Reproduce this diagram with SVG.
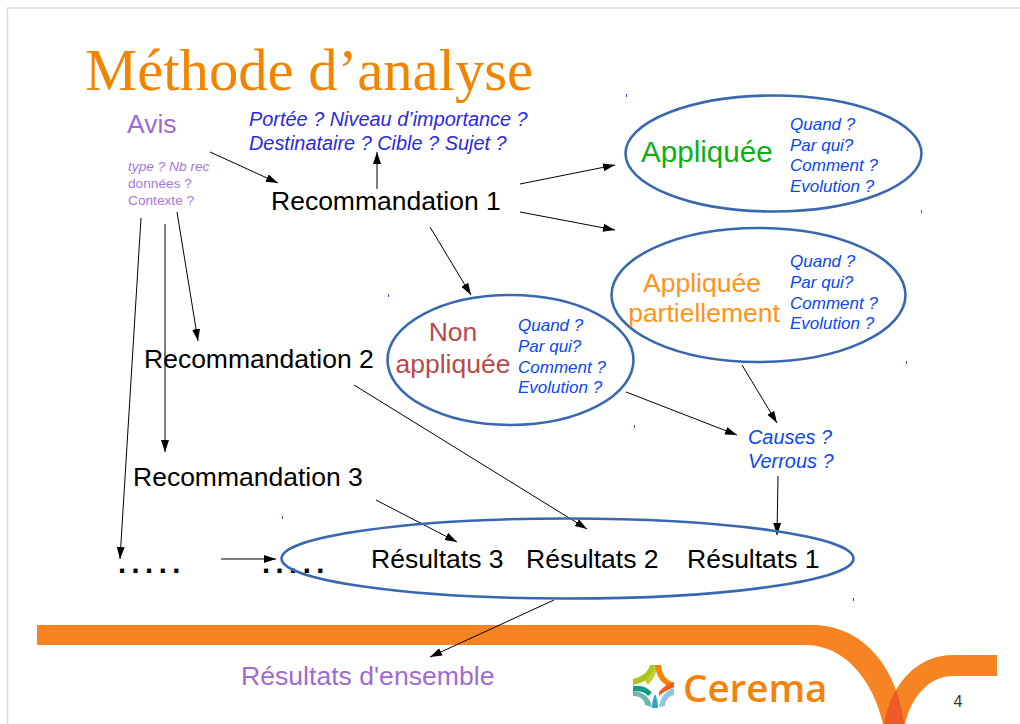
<svg xmlns="http://www.w3.org/2000/svg" width="1020" height="724" viewBox="0 0 1020 724">
<style>
text{font-family:"Liberation Sans",Arial,sans-serif}
.t{font-size:26.500px;fill:#000}
.q{font-size:17px;font-style:italic;fill:#0a46f0}
.c{stroke:#000;stroke-width:1;fill:none;marker-end:url(#a)}
.g{stroke:#555;stroke-width:1.500}
.e{fill:none;stroke:#3a68b0;stroke-width:2.600}
.b{font-size:19.900px;font-style:italic;fill:#2a2ae0}
.v{font-size:13.700px;fill:#a678d8}
.dot{fill:#2f5fb0}
.d{font-size:29px;font-weight:bold;fill:#000;letter-spacing:5.500px}
.band{fill:#f68423}
</style>
<defs>
<marker id="a" markerUnits="userSpaceOnUse" markerWidth="13" markerHeight="9" refX="12" refY="4.500" orient="auto"><path d="M0 0.500L12 4.500L0 8.500Z" fill="#000"/></marker>
<clipPath id="rp"><path d="M997 655H953C920 655 892 680 884 724H905C912 695 930 676 953 676H997Z"/></clipPath>
</defs>
<rect width="1020" height="724" fill="#fff"/>
<path d="M1020 8H7.500V724" fill="none" stroke="#dcdcdc" stroke-width="1.500"/>
<g id="footer">
<path class="band" d="M37 625H817C865 628 897 668 904 724H883C873 680 845 646 807 645H37Z"/>
<path class="band" d="M997 655H953C920 655 892 680 884 724H905C912 695 930 676 953 676H997Z"/>
<path d="M817 625C865 628 897 668 904 724H883C873 680 845 646 807 645Z" fill="#ee5a26" clip-path="url(#rp)"/>
<text x="958" y="707" text-anchor="middle" font-size="16" fill="#333">4</text>
</g>
<g id="logo">
<path d="M650 665H655C655 675 647 682 633 685V679C642 677 648 672 650 665Z" fill="#a9c51f"/>
<path d="M655 665L657 669C655 676 652 681 648 685L645 681C649 677 653 672 655 665Z" fill="#c3d02a"/>
<path d="M655 665H661C662 675 666 680 674 683L673 688C664 686 656 678 655 665Z" fill="#f5820a"/>
<path d="M659 692C664 686 668 684 674 682V687L668 690C664 692 662 693 659 696Z" fill="#ee5a20"/>
<path d="M633 686H640C646 687 650 690 652 693L648 696C645 692 640 691 633 691Z" fill="#149b82"/>
<path d="M633 691C645 692 650 698 652 707L645 705C644 699 640 696 633 696Z" fill="#6bb8a8"/>
<path d="M659 707C660 698 665 691 674 688V695C668 696 665 701 665 706Z" fill="#8cc8dd"/>
<path d="M655 694C657 698 658 702 658 708H652C652 703 653 698 655 694Z" fill="#2ca5c8"/>
<text x="683" y="702" font-size="38.500" font-weight="600" fill="#f5820a" style="font-family:'Open Sans','Noto Sans',sans-serif">Cerema</text>
</g>
<g id="connectors">
<path class="c" d="M210 152L278 183"/>
<path class="c g" d="M377 189V152"/>
<path class="c" d="M520 184L615 165"/>
<path class="c" d="M520 212L615 230"/>
<path class="c" d="M430 227L471 295"/>
<path class="c" d="M177 212L198 341"/>
<path class="c" d="M165 224V452"/>
<path class="c" d="M141 218L120 559"/>
<path class="c" d="M354 385L587 529"/>
<path class="c" d="M742 365L777 423"/>
<path class="c" d="M626 392L737 435"/>
<path class="c" d="M778 476L777 535"/>
<path class="c" d="M376 500L457 542"/>
<path class="c g" d="M221 559L276 559"/>
<path class="c" d="M554 600L430 657"/>
</g>
<g id="title"><text x="85" y="90" font-size="58.700" fill="#f28500" style="font-family:'Liberation Serif','Times New Roman',serif">Méthode d’analyse</text></g>
<g id="avis">
<text x="127" y="133" font-size="26.500" fill="#a06bd0">Avis</text>
<text x="128" y="171" class="v" font-style="italic">type ? Nb rec</text>
<text x="128" y="188" class="v">données ?</text>
<text x="128" y="205" class="v">Contexte ?</text>
</g>
<g id="questions-recommandation">
<text x="249" y="126" class="b">Portée ? Niveau d’importance ?</text>
<text x="249" y="150" class="b">Destinataire ? Cible ? Sujet ?</text>
</g>
<g id="recommandation-1"><text x="271" y="210" class="t">Recommandation 1</text></g>
<g id="recommandation-2"><text x="144" y="368" class="t">Recommandation 2</text></g>
<g id="recommandation-3"><text x="133" y="486" class="t">Recommandation 3</text></g>
<g id="appliquee">
<ellipse class="e" cx="773.500" cy="153.500" rx="148" ry="58"/>
<text x="641" y="162" font-size="29.600" fill="#0cb014">Appliquée</text>
<text x="790" y="130" class="q">Quand ?</text><text x="790" y="151" class="q">Par qui?</text><text x="790" y="171" class="q">Comment ?</text><text x="790" y="192" class="q">Evolution ?</text>
</g>
<g id="appliquee-partiellement">
<ellipse class="e" cx="758.500" cy="295" rx="147" ry="67"/>
<text x="702" y="292" text-anchor="middle" font-size="26.500" fill="#ff9419">Appliquée</text>
<text x="704" y="322" text-anchor="middle" font-size="26.500" fill="#ff9419">partiellement</text>
<text x="790" y="267" class="q">Quand ?</text><text x="790" y="288" class="q">Par qui?</text><text x="790" y="309" class="q">Comment ?</text><text x="790" y="329" class="q">Evolution ?</text>
</g>
<g id="non-appliquee">
<ellipse class="e" cx="510.500" cy="360" rx="123" ry="65"/>
<text x="453" y="341" text-anchor="middle" font-size="26.500" fill="#b84a4a">Non</text>
<text x="453" y="373" text-anchor="middle" font-size="26.500" fill="#b84a4a">appliquée</text>
<text x="518" y="331" class="q">Quand ?</text><text x="518" y="352" class="q">Par qui?</text><text x="518" y="373" class="q">Comment ?</text><text x="518" y="393" class="q">Evolution ?</text>
</g>
<g id="causes">
<text x="748" y="444" font-size="19.900" font-style="italic" fill="#0a46f0">Causes ?</text>
<text x="748" y="468" font-size="19.900" font-style="italic" fill="#0a46f0">Verrous ?</text>
</g>
<g id="dots-1"><text x="118" y="573" class="d">.....</text></g>
<g id="dots-2"><text x="262" y="573" class="d">.....</text></g>
<g id="resultats">
<ellipse class="e" cx="567.500" cy="558.500" rx="286" ry="40"/>
<text x="371" y="568" class="t">Résultats 3</text>
<text x="526" y="568" class="t">Résultats 2</text>
<text x="687" y="568" class="t">Résultats 1</text>
</g>
<g id="ensemble"><text x="241" y="685" font-size="26.600" fill="#a06bd0">Résultats d'ensemble</text></g>
<g id="specks">
<rect class="dot" x="626" y="94" width="1" height="3"/><rect class="dot" x="921" y="210" width="1" height="3"/><rect class="dot" x="388" y="294" width="1" height="3"/><rect class="dot" x="906" y="361" width="1" height="3"/><rect class="dot" x="634" y="425" width="1" height="3"/><rect class="dot" x="282" y="516" width="1" height="3"/><rect class="dot" x="853" y="598" width="1" height="3"/>
</g>
</svg>
